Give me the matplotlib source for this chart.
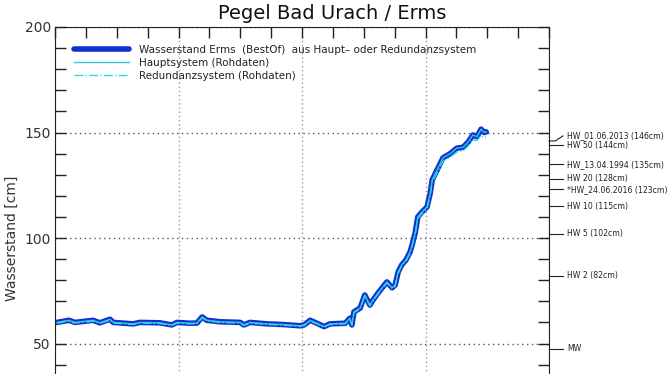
#!/usr/bin/env python3
import matplotlib
import matplotlib.pyplot as plt
import matplotlib.transforms as mtransforms
from matplotlib.ticker import MultipleLocator, FixedLocator

matplotlib.use("Agg")  # no display

# time in hours since start of the plot window
hours = [
    0.4, 2.7, 3.9, 7.4, 8.7, 10.7, 11.3, 15.2, 16.5, 20.4, 22.7, 23.7,
    26.2, 27.6, 28.6, 29.5, 32.1, 36.0, 36.7, 37.9, 41.2, 44.3, 47.6, 48.4,
    49.6, 50.9, 52.3, 53.4, 56.4, 57.3, 57.7, 58.1, 59.3, 60.2, 61.2, 61.8,
    62.8, 64.5, 65.5, 66.1, 66.7, 67.4, 68.2, 69.0, 69.4, 70.0, 70.5, 71.3,
    72.3, 72.9, 73.3, 74.2, 75.4, 76.8, 78.1, 79.3, 80.3, 81.2, 82.0, 82.8,
    83.4, 83.8,
]
# Wasserstand BestOf [cm]
best_of = [
    60.0, 61.0, 60.0, 61.0, 59.8, 61.5, 60.0, 59.3, 60.0, 59.8, 58.8, 60.0,
    59.6, 59.7, 62.6, 61.0, 60.3, 60.0, 58.8, 60.0, 59.3, 59.0, 58.4, 58.8,
    61.0, 59.6, 58.0, 59.3, 59.6, 62.0, 58.8, 65.0, 66.8, 73.0, 68.2, 70.6,
    74.0, 79.2, 76.4, 77.7, 84.0, 87.3, 89.6, 93.4, 96.7, 102.4, 110.0, 112.3,
    114.7, 121.0, 127.5, 132.0, 138.0, 140.0, 142.6, 143.0, 145.5, 148.8, 148.0, 151.6,
    150.0, 150.3,
]
# Hauptsystem raw data [cm]
haupt = [
    60.0, 61.0, 60.0, 61.0, 59.8, 61.5, 60.0, 59.3, 60.0, 59.8, 58.8, 60.0,
    59.6, 59.7, 62.6, 61.0, 60.3, 60.0, 58.8, 60.0, 59.3, 59.0, 58.4, 58.8,
    61.0, 59.6, 58.0, 59.3, 59.6, 62.0, 58.8, 65.0, 66.8, 73.0, 68.2, 70.6,
    74.0, 79.2, 76.4, 77.7, 84.0, 87.3, 89.6, 93.4, 96.7, 102.4, 110.0, 112.3,
    114.7, 121.0, 127.5, 132.0, 138.0, 140.0, 142.6, 143.0, 145.5, 148.8, 148.0, 151.6,
    150.0, 150.3,
]
# Redundanzsystem raw data [cm]
redundanz = [
    59.6, 60.6, 59.7, 60.6, 59.5, 61.1, 59.7, 59.0, 59.7, 59.5, 58.5, 59.7,
    59.3, 59.4, 62.2, 60.7, 60.0, 59.7, 58.5, 59.7, 59.0, 58.7, 58.1, 58.5,
    60.6, 59.3, 57.7, 59.0, 59.3, 61.6, 58.5, 64.6, 66.4, 72.5, 67.8, 70.2,
    73.5, 78.7, 76.0, 77.2, 83.4, 86.8, 89.0, 92.8, 96.1, 101.7, 109.2, 111.5,
    113.8, 120.0, 126.4, 130.6, 136.4, 138.3, 140.8, 141.3, 143.6, 146.5, 146.2, 148.5,
    147.6, 147.9,
]

# labelled y ticks (the rest of the axis is cut off)
y_ticks = [50, 100, 150, 200]

# reference levels on the right side
ref_values = [146, 144, 135, 128, 123, 115, 102, 82, 47.4]
ref_labels = [
    "HW_01.06.2013 (146cm)",
    "HW 50 (144cm)",
    "HW_13.04.1994 (135cm)",
    "HW 20 (128cm)",
    "*HW_24.06.2016 (123cm)",
    "HW 10 (115cm)",
    "HW 5 (102cm)",
    "HW 2 (82cm)",
    "MW",
]


def main():
    fig = plt.figure(figsize=(6.7, 3.74), dpi=100)
    # axes extend below the picture, the chart is cut at the bottom
    ax = fig.add_axes([55 / 670, (374 - 449) / 374, 494 / 670, 422 / 374])

    ax.set_xlim(0, 96)
    ax.set_ylim(0, 200)

    ax.plot(hours, best_of, color="#1030d0", lw=4.0, solid_joinstyle="round",
            solid_capstyle="round",
            label="Wasserstand Erms  (BestOf)  aus Haupt\u2013 oder Redundanzsystem")
    ax.plot(hours, haupt, color="#30c8e0", lw=1.0,
            label="Hauptsystem (Rohdaten)")
    ax.plot(hours, redundanz, color="#30d8e0", lw=1.0, linestyle="-.",
            label="Redundanzsystem (Rohdaten)")

    # ticks and grid
    ax.xaxis.set_major_locator(MultipleLocator(24))
    ax.xaxis.set_minor_locator(MultipleLocator(6))
    ax.yaxis.set_major_locator(FixedLocator(y_ticks))
    ax.yaxis.set_minor_locator(MultipleLocator(10))
    ax.tick_params(axis="both", which="both", direction="in", length=8,
                   width=1, top=True, right=True, colors="#222222",
                   labelsize=10, labelcolor="#333333", pad=3)
    ax.tick_params(axis="x", labelbottom=False)
    ax.grid(axis="x", which="major", color="#9a9a9a", linestyle=(0, (1, 2)), lw=1)
    ax.grid(axis="y", which="major", color="#555555", linestyle=(0, (1, 2.5)), lw=1)
    for sp in ax.spines.values():
        sp.set_color("#222222")

    ax.set_ylabel("Wasserstand [cm]", fontsize=10, color="#333333")
    ax.yaxis.set_label_coords(-0.073, 0.5)

    leg = ax.legend(loc="upper left", bbox_to_anchor=(0.02, 0.98), frameon=False,
                    fontsize=7.5, handlelength=5.3, handletextpad=0.9,
                    labelspacing=0.3)
    for t in leg.get_texts():
        t.set_color("#222222")

    # reference labels with connectors outside the right spine
    trans = mtransforms.blended_transform_factory(ax.transAxes, ax.transData)
    px_y = 200 / 422  # data units per pixel
    for val, lab in zip(ref_values, ref_labels):
        ty = val
        if lab.startswith("HW_01.06.2013"):
            ty = val + 5 * px_y
            ax.plot([1.0, 1.013, 1.028], [val, val, ty], color="#222222",
                    lw=0.8, transform=trans, clip_on=False)
        else:
            ax.plot([1.0, 1.028], [val, val], color="#222222", lw=0.8,
                    transform=trans, clip_on=False)
        ax.text(1.036, ty, lab, transform=trans, fontsize=5.6,
                va="center", ha="left", color="#222222")

    fig.text(0.496, 0.963, "Pegel Bad Urach / Erms", fontsize=14,
             ha="center", va="center", color="#111111")

    fig.savefig("out.png", dpi=100)
    plt.close(fig)


if __name__ == "__main__":
    main()
